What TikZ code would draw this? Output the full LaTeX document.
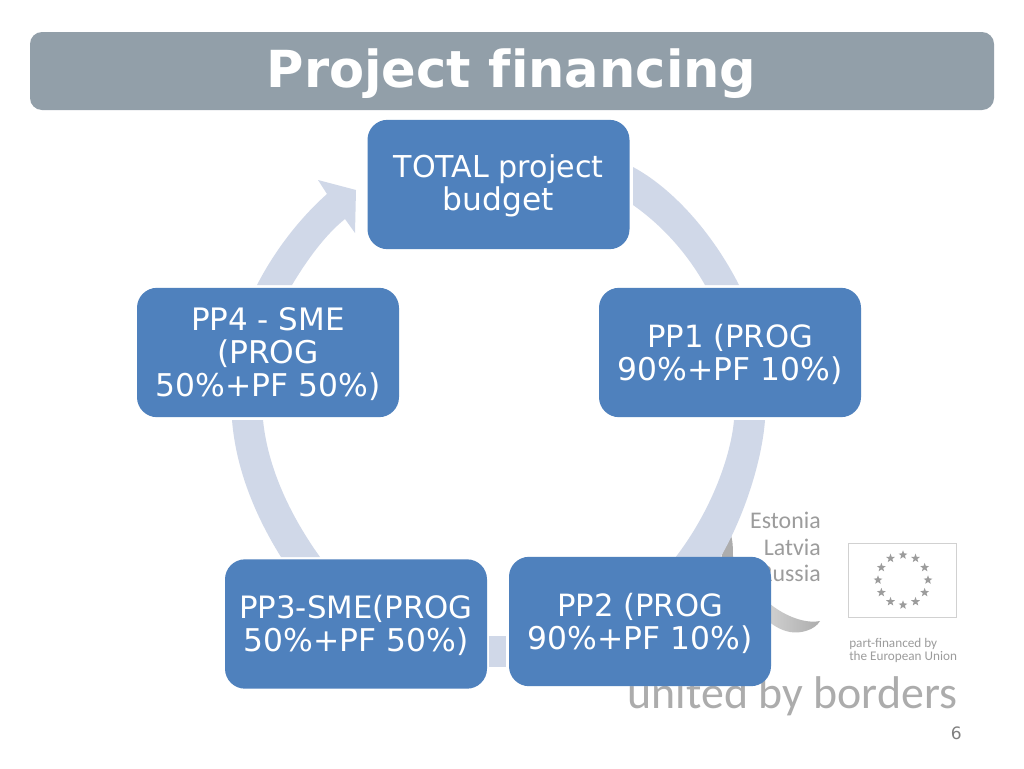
\documentclass[tikz,border=0pt]{standalone}
\usepackage{fontspec}
\setmainfont{DejaVu Sans}
\newfontfamily\logofont{Carlito}
\usetikzlibrary{shapes.geometric,calc}
\definecolor{boxblue}{HTML}{4F81BD}
\definecolor{ringblue}{HTML}{D0D8E8}
\definecolor{titlegray}{HTML}{929FA9}
\definecolor{logogray}{HTML}{9C9C9C}
\definecolor{wordgray}{HTML}{ACACAC}
\definecolor{swooshlight}{HTML}{D2D2D2}
\definecolor{swooshdark}{HTML}{ADADAD}
\tikzset{
  stage/.style={draw=none,fill=boxblue,rounded corners=15pt,minimum width=196.5pt,minimum height=97pt,inner sep=0pt},
  stagetext/.style={inner sep=0pt,align=center,text=white,yshift=-1.3pt,font=\fontsize{23.5}{24.75}\selectfont},
  ringpart/.style={fill=ringblue,draw=none},
  logotext/.style={inner sep=0pt,text=logogray,font=\logofont\fontsize{17.9}{20}\selectfont},
  smalllogo/.style={inner sep=0pt,text=logogray,font=\logofont\fontsize{9.9}{10}\selectfont},
  eustar/.style={star,star points=5,star point ratio=2.4,fill=logogray,draw=none,inner sep=0pt,minimum size=7pt},
}
\newcommand{\narrowline}[2]{{\fontsize{#1}{24.75}\selectfont #2}}
\begin{document}
\begin{tikzpicture}[x=0.75pt,y=-0.75pt]
\useasboundingbox (0,0) rectangle (1024,768);
\fill[white] (0,0) rectangle (1024,768);
% title bar
\node[fill=titlegray,rounded corners=9pt,minimum width=723pt,minimum height=58.5pt,inner sep=0pt] (bar) at (512,71) {};
\node[anchor=base,inner sep=0pt,text=white,font=\bfseries\fontsize{38.3}{40}\selectfont] (title) at (511.5,87) {Project f\kern0pt inancing};
% logo
\fill[swooshdark] (731,535) .. controls (727,540) and (723,548) .. (721,560) -- (733,560) .. controls (733,550) and (733,542) .. (731,535) -- cycle;
\shade[left color=swooshlight,right color=swooshdark] (770,604) .. controls (785,616) and (805,624) .. (820,621) .. controls (815,630) and (800,634) .. (790,632) .. controls (780,630) and (772,625) .. (765,618) -- cycle;
\node[logotext,anchor=base east] (estonia) at (821,528) {Estonia};
\node[logotext,anchor=base east] (latvia) at (821,555) {Latvia};
\node[logotext,anchor=base east] (russia) at (821,581) {Russia};
\node[draw=black!18,line width=0.6pt,minimum width=81.5pt,minimum height=55.5pt,inner sep=0pt] (flag) at (902.5,580) {};
\foreach \i in {0,30,...,330}{
  \node[eustar] (s\i) at ($(903,580)+(\i:18.75pt)$) {};
}
\node[smalllogo,anchor=base west] (part) at (849,647) {part-financed by};
\node[smalllogo,anchor=base west] (union) at (849,660) {the European Union};
\node[inner sep=0pt,anchor=base east,text=wordgray,font=\logofont\fontsize{34.4}{36}\selectfont] (united) at (957.5,708.5) {united by borders};
\node[inner sep=0pt,anchor=base east,text=black!50,font=\fontsize{12.8}{14}\selectfont] (pagenum) at (962,739) {6};
% ring
\fill[ringpart] (633,167) .. controls (672,188) and (712,232) .. (739,285) -- (705,285) .. controls (685,250) and (660,224) .. (633,205) -- cycle;
\fill[ringpart] (765,420) .. controls (762,460) and (745,515) .. (720,558) -- (675,558) .. controls (712,510) and (731,455) .. (734,420) -- cycle;
\fill[ringpart] (489,636) rectangle (506,667);
\fill[ringpart] (232,420) .. controls (236,470) and (256,517) .. (281,557) -- (320,557) .. controls (292,518) and (268,470) .. (263,420) -- cycle;
\fill[ringpart] (257,285) .. controls (275,250) and (300,218) .. (327,194) -- (318,180) -- (356,190) -- (355,233) -- (345,219) .. controls (325,235) and (307,260) .. (292,285) -- cycle;
% boxes
\node[stage,label={[stagetext]center:{\narrowline{22.6}{TOTAL project}\\budget}}] (total) at (498.5,184.5) {};
\node[stage,label={[stagetext]center:{\narrowline{23}{PP1 (PROG}\\90\%+PF 10\%)}}] (ppone) at (730,352.5) {};
\node[stage,label={[stagetext]center:{\narrowline{23}{PP2 (PROG}\\90\%+PF 10\%)}}] (pptwo) at (640,621.5) {};
\node[stage,label={[stagetext]center:{\narrowline{23.1}{PP3-SME(PROG}\\50\%+PF 50\%)}}] (ppthree) at (356,624) {};
\node[stage,label={[stagetext]center:{\narrowline{23.2}{PP4 - SME}\\(PROG\\50\%+PF 50\%)}}] (ppfour) at (268,352.5) {};
\end{tikzpicture}
\end{document}
